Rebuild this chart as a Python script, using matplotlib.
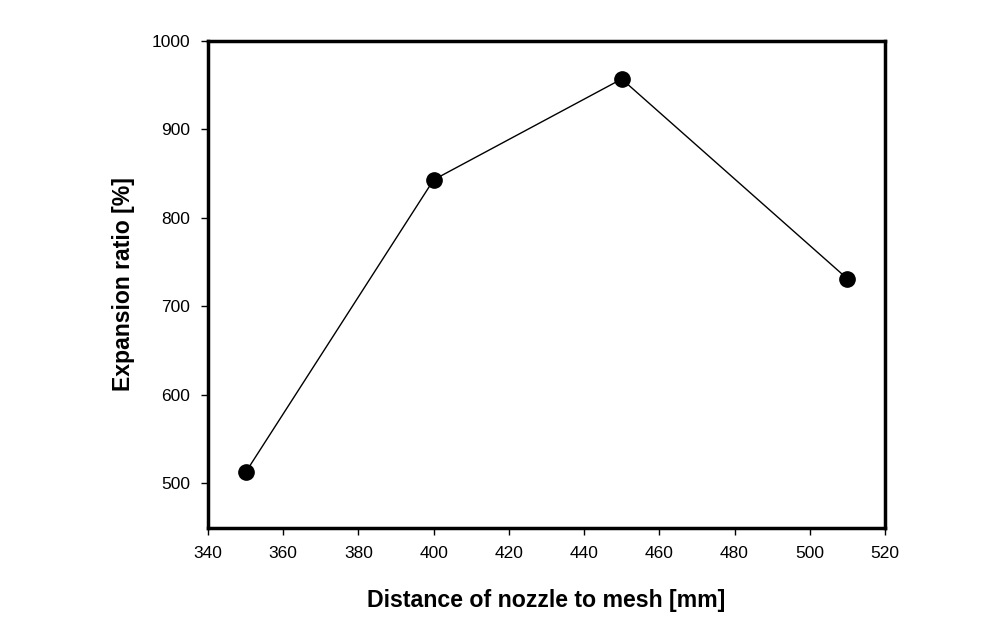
import matplotlib.pyplot as plt

plt.rcParams['font.family'] = ['Liberation Sans', 'DejaVu Sans']

distance = [350, 400, 450, 510]
expansion = [512, 843, 957, 731]
x_ticks = [340, 360, 380, 400, 420, 440, 460, 480, 500, 520]
y_ticks = [500, 600, 700, 800, 900, 1000]

fig = plt.figure(figsize=(10.06, 6.25), dpi=100)
ax = fig.add_axes([0.2068, 0.1552, 0.6729, 0.7792])

ax.plot(distance, expansion, color='black', linewidth=1.0, marker='o',
        markersize=11, markerfacecolor='black', markeredgecolor='black')

ax.set_xlim(340, 520)
ax.set_ylim(449, 1000)
ax.set_xticks(x_ticks)
ax.set_yticks(y_ticks)
ax.tick_params(direction='out', length=5, width=1, labelsize=12.5, pad=8)

for s in ax.spines.values():
    s.set_linewidth(2.5)

ax.set_xlabel('Distance of nozzle to mesh [mm]', fontsize=16.7, fontweight='bold', labelpad=20)
ax.set_ylabel('Expansion ratio [%]', fontsize=16.6, fontweight='bold', labelpad=12)

plt.savefig('out.png', dpi=100)
